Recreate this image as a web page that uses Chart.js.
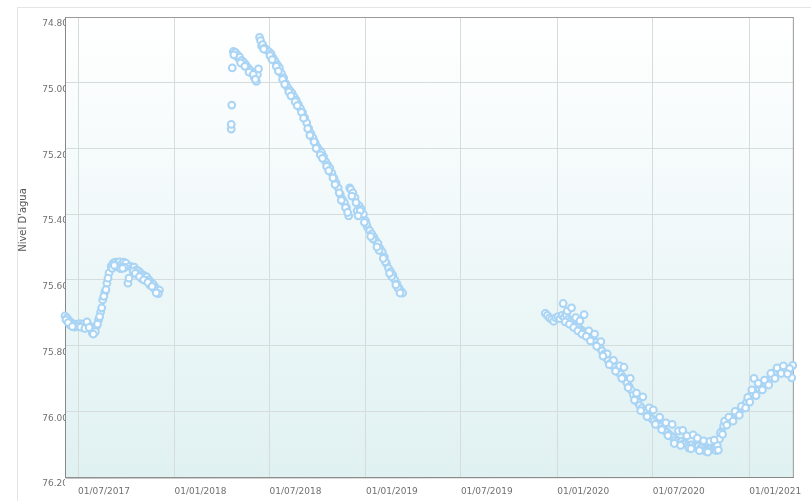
<!DOCTYPE html>
<html>
<head>
<meta charset="utf-8">
<script src="https://cdn.jsdelivr.net/npm/chart.js@4.4.1/dist/chart.umd.min.js"></script>
<style>
html,body{margin:0;padding:0;background:#fff;}
#c{display:block;}
</style>
</head>
<body>
<canvas id="c" width="811" height="501"></canvas>
<script>
// ---- Data ----
const yAxisTitle = "Nivel D'agua";
const yTicks = [74.8, 75.0, 75.2, 75.4, 75.6, 75.8, 76.0, 76.2];
const xTickDates = ['2017-07-01','2018-01-01','2018-07-01','2019-01-01','2019-07-01','2020-01-01','2020-07-01','2021-01-01'];
const xRange = ['2017-06-06','2021-03-27'];

const period1Dates = ['2017-06-06','2017-06-10','2017-06-14','2017-06-18','2017-06-22','2017-06-26','2017-06-30','2017-07-04','2017-07-08','2017-07-12','2017-07-16','2017-07-20','2017-07-24','2017-07-28','2017-08-01','2017-08-05','2017-08-09','2017-08-13','2017-08-17','2017-08-21','2017-08-25','2017-08-29','2017-09-02','2017-09-06','2017-09-10','2017-09-14','2017-09-18','2017-09-22','2017-09-26','2017-09-30','2017-10-04','2017-10-08','2017-10-12','2017-10-16','2017-10-20','2017-10-24','2017-10-28','2017-11-01','2017-11-05','2017-11-09','2017-11-13','2017-11-17','2017-11-21','2017-11-25','2017-11-29','2017-12-03',
'2017-06-08','2017-06-16','2017-06-24','2017-07-02','2017-07-10','2017-07-18','2017-07-26','2017-08-03','2017-08-11','2017-08-19','2017-08-27','2017-09-04','2017-09-12','2017-09-20','2017-09-28','2017-10-06','2017-10-14','2017-10-22','2017-10-30','2017-11-07','2017-11-15','2017-11-23','2017-12-01',
'2017-06-12','2017-06-20','2017-07-06','2017-07-14','2017-07-22','2017-07-30','2017-08-07','2017-08-15','2017-08-23','2017-09-08','2017-09-24','2017-10-18','2017-10-26','2017-11-03','2017-11-11','2017-11-19','2017-11-27'];
const period1Levels = [75.710,75.716,75.725,75.730,75.734,75.737,75.735,75.733,75.737,75.734,75.738,75.737,75.742,75.762,75.753,75.741,75.722,75.698,75.661,75.637,75.610,75.579,75.558,75.549,75.546,75.548,75.545,75.552,75.546,75.549,75.610,75.558,75.563,75.561,75.570,75.573,75.579,75.585,75.588,75.591,75.600,75.607,75.613,75.622,75.634,75.631,
75.722,75.738,75.744,75.742,75.745,75.728,75.748,75.758,75.712,75.650,75.595,75.565,75.560,75.566,75.562,75.595,75.574,75.585,75.596,75.602,75.616,75.626,75.642,
75.730,75.742,75.744,75.748,75.745,75.765,75.735,75.685,75.630,75.556,75.565,75.580,75.590,75.600,75.608,75.620,75.640];

const period2Dates = ['2018-04-19','2018-04-19','2018-04-20','2018-04-21',
'2018-04-23','2018-04-25','2018-04-27','2018-04-29','2018-05-01','2018-05-03','2018-05-05','2018-05-09','2018-05-13','2018-05-17','2018-05-21','2018-05-25','2018-05-29','2018-06-02','2018-06-06','2018-06-08','2018-06-10',
'2018-04-24','2018-05-07','2018-05-15','2018-05-23','2018-05-31','2018-06-04',
'2018-06-12','2018-06-14','2018-06-16','2018-06-18','2018-06-22','2018-06-26','2018-06-30','2018-07-04','2018-07-08','2018-07-12','2018-07-16','2018-07-20','2018-07-24','2018-07-28','2018-08-01','2018-08-05','2018-08-09','2018-08-13','2018-08-17','2018-08-21','2018-08-25','2018-08-29','2018-09-02','2018-09-06','2018-09-10','2018-09-14','2018-09-18','2018-09-22','2018-09-26','2018-09-30','2018-10-04','2018-10-08','2018-10-12','2018-10-16','2018-10-20','2018-10-24','2018-10-28','2018-11-01','2018-11-05','2018-11-09','2018-11-13','2018-11-17','2018-11-21','2018-11-25','2018-11-29','2018-12-01','2018-12-03','2018-12-07','2018-12-11','2018-12-15','2018-12-19','2018-12-23','2018-12-27','2018-12-31','2019-01-04','2019-01-08','2019-01-12','2019-01-16','2019-01-20','2019-01-24','2019-01-28','2019-02-01','2019-02-05','2019-02-09','2019-02-13','2019-02-17','2019-02-21','2019-02-25','2019-03-01','2019-03-05','2019-03-09','2019-03-12',
'2018-06-20','2018-07-02','2018-07-14','2018-07-26','2018-08-07','2018-08-19','2018-08-31','2018-09-12','2018-09-24','2018-10-06','2018-10-18','2018-10-30','2018-11-11','2018-11-23','2018-12-05','2018-12-13','2018-12-21','2019-01-02','2019-01-14','2019-01-26','2019-02-07','2019-02-19','2019-03-03',
'2018-07-06','2018-07-18','2018-07-30','2018-08-11','2018-08-23','2018-09-04','2018-09-16','2018-09-28','2018-10-10','2018-10-22','2018-11-03','2018-11-15','2018-11-27','2018-12-17','2018-12-29','2019-01-10','2019-01-22','2019-02-03','2019-02-15','2019-02-27','2019-03-07'];
const period2Levels = [75.141,75.127,75.068,74.955,
74.905,74.912,74.908,74.918,74.915,74.925,74.922,74.932,74.938,74.946,74.955,74.962,74.972,74.984,74.996,74.975,74.958,
74.915,74.940,74.950,74.968,74.975,74.990,
74.862,74.872,74.888,74.884,74.895,74.900,74.906,74.912,74.925,74.935,74.946,74.955,74.972,74.985,75.003,75.015,75.024,75.032,75.043,75.053,75.066,75.078,75.090,75.106,75.122,75.140,75.155,75.168,75.182,75.195,75.205,75.212,75.225,75.240,75.250,75.260,75.275,75.290,75.305,75.320,75.340,75.355,75.365,75.380,75.405,75.320,75.325,75.335,75.350,75.390,75.375,75.385,75.400,75.420,75.440,75.450,75.460,75.470,75.482,75.490,75.505,75.515,75.530,75.550,75.565,75.575,75.585,75.600,75.612,75.625,75.635,75.640,
74.898,74.918,74.950,74.990,75.028,75.058,75.090,75.140,75.180,75.220,75.255,75.290,75.335,75.380,75.345,75.365,75.390,75.430,75.475,75.510,75.545,75.590,75.625,
74.930,74.965,75.005,75.040,75.070,75.108,75.160,75.200,75.230,75.268,75.310,75.358,75.395,75.405,75.425,75.468,75.500,75.535,75.580,75.615,75.640];

const period3Dates = ['2019-12-09','2019-12-13','2019-12-17','2019-12-21','2019-12-25','2019-12-29','2020-01-02','2020-01-06','2020-01-10','2020-01-14','2020-01-18','2020-01-22','2020-01-26','2020-01-30','2020-02-03','2020-02-07','2020-02-11','2020-02-15','2020-02-19','2020-02-23','2020-02-27','2020-03-02','2020-03-06','2020-03-10','2020-03-14','2020-03-18','2020-03-22','2020-03-26','2020-03-30','2020-04-03','2020-04-07','2020-04-11','2020-04-15','2020-04-19','2020-04-23','2020-04-27','2020-05-01','2020-05-05','2020-05-09','2020-05-13','2020-05-17','2020-05-21','2020-05-25','2020-05-29','2020-06-02','2020-06-06','2020-06-10','2020-06-14','2020-06-18','2020-06-22','2020-06-26','2020-06-30','2020-07-04','2020-07-08','2020-07-12','2020-07-16','2020-07-20','2020-07-24','2020-07-28','2020-08-01','2020-08-05','2020-08-09','2020-08-13','2020-08-17','2020-08-21','2020-08-25','2020-08-29','2020-09-02','2020-09-06','2020-09-10','2020-09-14','2020-09-18','2020-09-22','2020-09-26','2020-09-30','2020-10-04','2020-10-08','2020-10-12','2020-10-16','2020-10-20','2020-10-24','2020-10-28','2020-11-01','2020-11-05','2020-11-09','2020-11-13','2020-11-17','2020-11-21','2020-11-25','2020-11-29','2020-12-03','2020-12-07','2020-12-11','2020-12-15','2020-12-19','2020-12-23','2020-12-27','2020-12-31','2021-01-04','2021-01-08','2021-01-12','2021-01-16','2021-01-20','2021-01-24','2021-01-28','2021-02-01','2021-02-05','2021-02-09','2021-02-13','2021-02-17','2021-02-21','2021-02-25','2021-03-01','2021-03-05','2021-03-09','2021-03-13','2021-03-17','2021-03-21','2021-03-25',
'2020-01-12','2020-01-20','2020-01-28','2020-02-05','2020-02-13','2020-02-21','2020-03-01','2020-03-12','2020-03-24','2020-04-05','2020-04-17','2020-04-29','2020-05-07','2020-05-19','2020-05-31','2020-06-12','2020-06-24','2020-07-02','2020-07-14','2020-07-26','2020-08-07','2020-08-19','2020-08-27','2020-09-04','2020-09-16','2020-09-24','2020-10-06','2020-10-18','2020-10-26','2020-11-07','2020-11-15','2020-11-23','2020-12-05','2020-12-17','2020-12-29','2021-01-06','2021-01-10','2021-01-18','2021-01-30','2021-02-11','2021-02-23','2021-03-07','2021-03-19',
'2020-08-11','2020-09-08','2020-10-10','2020-10-30','2020-11-03','2021-03-23',
'2020-01-16','2020-01-24','2020-02-01','2020-02-09','2020-02-17','2020-02-25','2020-03-04','2020-03-16','2020-03-28','2020-04-09','2020-04-21','2020-05-03','2020-05-15','2020-05-27','2020-06-08','2020-06-20','2020-07-06','2020-07-18','2020-07-30','2020-08-23','2020-09-12','2020-09-28','2020-10-14','2020-11-11','2020-11-19','2020-12-01','2020-12-13','2020-12-25','2021-01-02','2021-01-14','2021-01-26','2021-02-07','2021-02-19','2021-03-03','2021-03-15'];
const period3Levels = [75.702,75.708,75.716,75.720,75.726,75.716,75.712,75.718,75.708,75.714,75.706,75.720,75.726,75.730,75.738,75.742,75.746,75.752,75.756,75.760,75.764,75.772,75.778,75.784,75.790,75.798,75.806,75.816,75.826,75.836,75.846,75.854,75.860,75.866,75.874,75.882,75.888,75.896,75.904,75.914,75.925,75.936,75.950,75.962,75.972,75.982,75.990,75.998,76.004,76.012,76.018,76.024,76.030,76.036,76.040,76.045,76.052,76.058,76.064,76.070,76.076,76.080,76.086,76.090,76.094,76.092,76.098,76.100,76.104,76.106,76.102,76.108,76.110,76.106,76.112,76.110,76.114,76.116,76.118,76.114,76.116,76.112,76.104,76.084,76.062,76.044,76.034,76.030,76.026,76.020,76.014,76.008,76.002,75.996,75.990,75.982,75.972,75.964,75.952,75.944,75.940,75.934,75.930,75.925,75.920,75.914,75.908,75.904,75.896,75.888,75.878,75.872,75.870,75.868,75.870,75.874,75.878,75.868,75.860,
75.672,75.695,75.685,75.715,75.725,75.706,75.755,75.765,75.788,75.825,75.845,75.862,75.866,75.900,75.945,75.956,75.990,75.996,76.018,76.035,76.040,76.060,76.058,76.075,76.072,76.082,76.090,76.092,76.088,76.066,76.030,76.018,76.000,75.985,75.958,75.935,75.900,75.915,75.905,75.885,75.868,75.862,75.870,
76.098,76.112,76.122,76.120,76.118,75.898,
75.728,75.735,75.745,75.755,75.765,75.772,75.786,75.802,75.832,75.858,75.878,75.900,75.928,75.966,75.998,76.016,76.040,76.056,76.074,76.104,76.114,76.120,76.124,76.070,76.042,76.030,76.012,75.990,75.972,75.952,75.935,75.920,75.900,75.885,75.886];

// ---- Build ----
const ts = d => Date.parse(d + 'T00:00:00Z');
const allDates = period1Dates.concat(period2Dates, period3Dates);
const allLevels = period1Levels.concat(period2Levels, period3Levels);
const points = allDates.map((d, i) => ({ x: ts(d), y: allLevels[i] }));

function fmtDate(v) {
  const d = new Date(v);
  const dd = String(d.getUTCDate()).padStart(2, '0');
  const mm = String(d.getUTCMonth() + 1).padStart(2, '0');
  return dd + '/' + mm + '/' + d.getUTCFullYear();
}

const FONT = 'DejaVu Sans';

const decor = {
  id: 'decor',
  beforeDraw(chart) {
    const c = chart.ctx, a = chart.chartArea;
    c.save();
    c.fillStyle = '#ffffff';
    c.fillRect(0, 0, chart.width, chart.height);
    c.strokeStyle = '#e4e6e6';
    c.lineWidth = 1;
    c.beginPath();
    c.moveTo(17.5, chart.height);
    c.lineTo(17.5, 7.5);
    c.lineTo(chart.width, 7.5);
    c.stroke();
    const g = c.createLinearGradient(0, a.top, 0, a.bottom);
    g.addColorStop(0, '#ffffff');
    g.addColorStop(1, '#e0f1f2');
    c.fillStyle = g;
    c.fillRect(a.left, a.top, a.right - a.left, a.bottom - a.top);
    c.translate(23, 220);
    c.rotate(-Math.PI / 2);
    c.fillStyle = '#555555';
    c.font = '10px "' + FONT + '"';
    c.textAlign = 'center';
    c.textBaseline = 'middle';
    c.fillText(yAxisTitle, 0, 0);
    c.restore();
  },
  beforeDatasetsDraw(chart) {
    const c = chart.ctx, a = chart.chartArea;
    c.save();
    c.strokeStyle = '#9a9a9a';
    c.lineWidth = 1;
    c.strokeRect(a.left + 0.5, a.top + 0.5, a.right - a.left - 1, a.bottom - a.top);
    c.strokeStyle = '#888888';
    c.beginPath();
    c.moveTo(a.left + 0.5, a.top);
    c.lineTo(a.left + 0.5, a.bottom + 1);
    c.lineTo(a.right, a.bottom + 0.5);
    c.stroke();
    c.restore();
  }
};

new Chart(document.getElementById('c'), {
  type: 'scatter',
  data: {
    datasets: [{
      data: points,
      pointRadius: 3.4,
      pointHoverRadius: 3.4,
      pointBorderWidth: 2,
      pointBorderColor: '#a9d4f4',
      pointBackgroundColor: '#fbfdff',
      clip: false
    }]
  },
  options: {
    responsive: false,
    animation: false,
    devicePixelRatio: 1,
    layout: { padding: { left: 0, top: 17, right: 14, bottom: 0 } },
    plugins: { legend: { display: false }, tooltip: { enabled: false } },
    scales: {
      x: {
        type: 'linear',
        min: ts(xRange[0]),
        max: ts(xRange[1]),
        afterBuildTicks: s => { s.ticks = xTickDates.map(d => ({ value: ts(d) })); },
        afterFit: s => { s.height = 24; },
        grid: { color: '#d5dcdc', drawTicks: false },
        border: { display: false },
        ticks: {
          align: 'start', padding: 9, color: '#707070', maxRotation: 0, autoSkip: false,
          font: { family: FONT, size: 9 },
          callback: v => fmtDate(v)
        }
      },
      y: {
        reverse: true,
        min: yTicks[0],
        max: yTicks[yTicks.length - 1],
        afterBuildTicks: s => { s.ticks = yTicks.map(v => ({ value: v })); },
        afterFit: s => { s.width = 65; },
        grid: { color: '#d5dcdc', drawTicks: false },
        border: { display: false },
        ticks: {
          padding: -3, labelOffset: 7, color: '#707070', autoSkip: false,
          font: { family: FONT, size: 9 },
          callback: v => Number(v).toFixed(2)
        }
      }
    }
  },
  plugins: [decor]
});
</script>
</body>
</html>
